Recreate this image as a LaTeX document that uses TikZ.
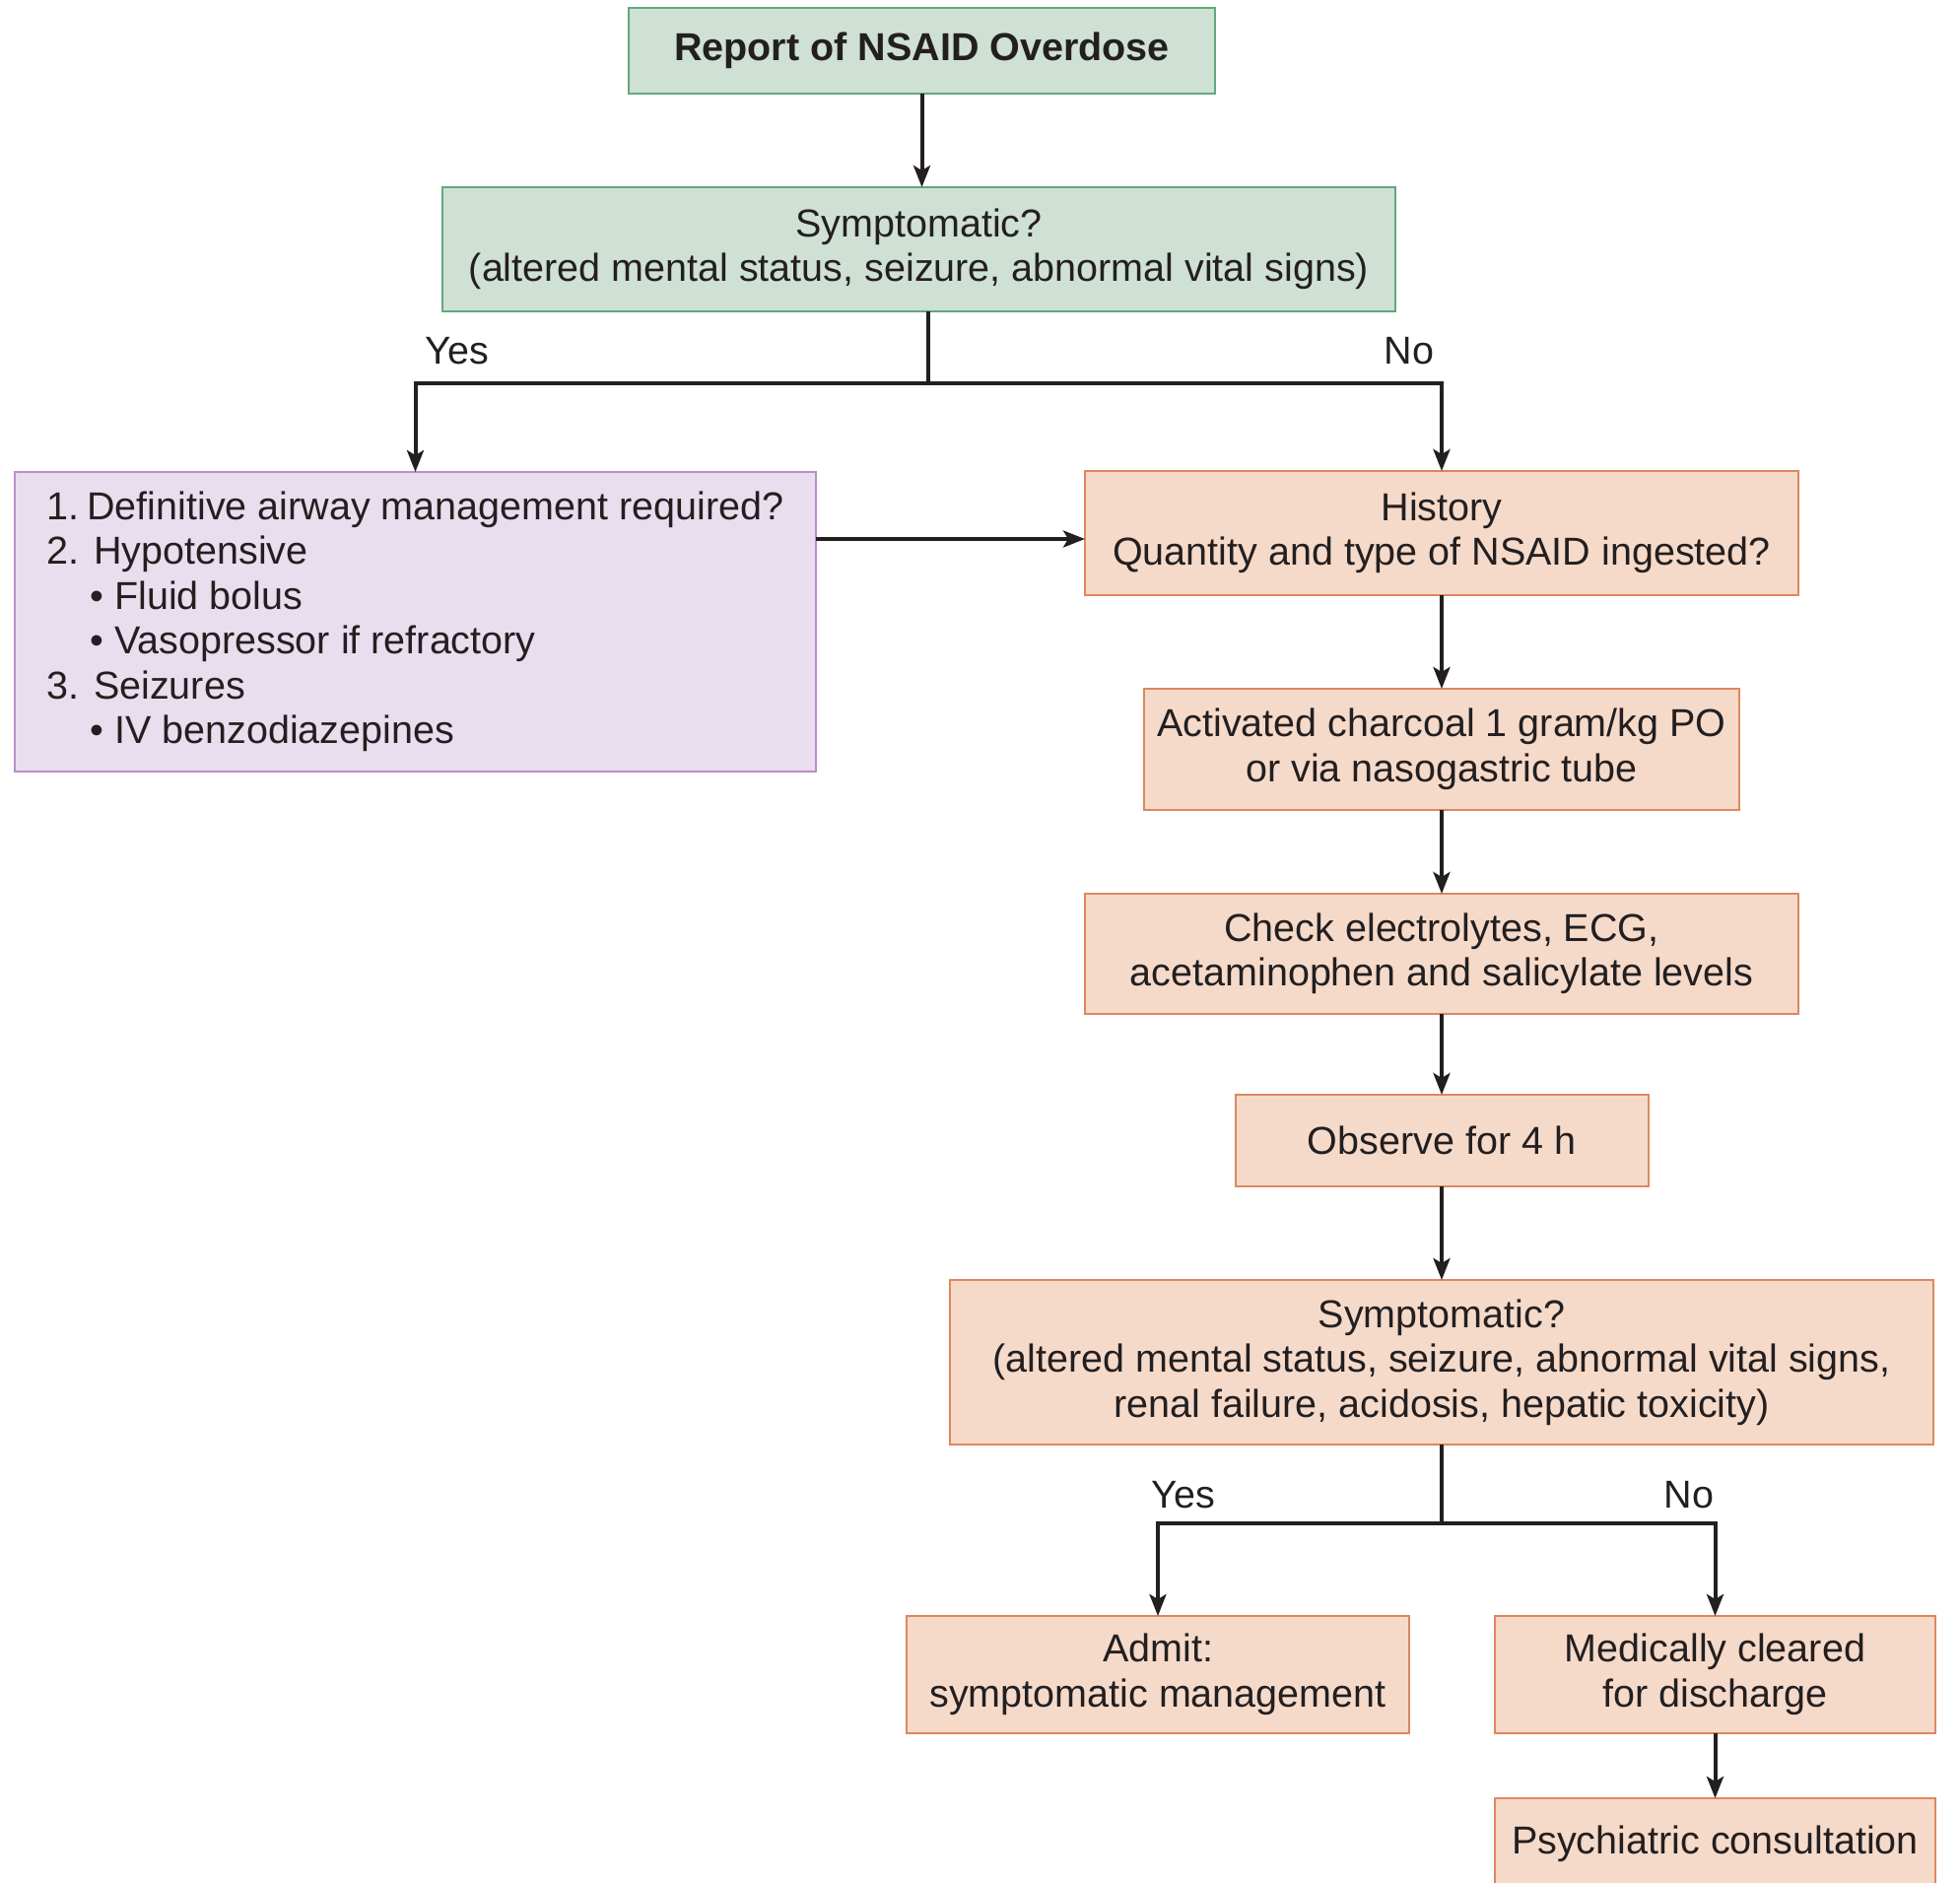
\documentclass[tikz,border=0pt]{standalone}
\usepackage{fontspec}
\setmainfont{Liberation Sans}
\usetikzlibrary{arrows.meta, positioning}
\definecolor{odGreen}{RGB}{207, 224, 213}
\definecolor{odGreenLine}{RGB}{98, 168, 124}
\definecolor{odPurple}{RGB}{232, 222, 237}
\definecolor{odPurpleLine}{RGB}{186, 142, 200}
\definecolor{odOrange}{RGB}{245, 218, 202}
\definecolor{odOrangeLine}{RGB}{222, 135, 96}
\definecolor{odInk}{RGB}{35, 31, 32}
\newcommand{\odfont}{\fontsize{39.5}{45.5}\selectfont}

\begin{document}
\begin{tikzpicture}[
  x=1pt, y=-1pt,
  box/.style={
    rectangle, inner sep=0pt, outer sep=0pt, line width=2pt,
    draw=odOrangeLine, fill=odOrange,
    align=center, font=\odfont, text=odInk
  },
  startbox/.style={box, draw=odGreenLine, fill=odGreen},
  treatbox/.style={box, draw=odPurpleLine, fill=odPurple, align=left},
  answer/.style={font=\odfont, text=odInk},
  link/.style={line width=4pt, draw=odInk},
  arr/.style={link, -{Stealth[length=22pt, width=17pt, inset=5pt]}}
]
\useasboundingbox (0,0) rectangle (1989,1911);

\node[startbox, minimum width=595pt, minimum height=87pt] (report) at (935.5,51.5)
  {\textbf{Report of NSAID Overdose}};

\node[startbox, minimum width=967pt, minimum height=126pt] (symp1) at (932.5,253)
  {Symptomatic?\\
   (altered mental status, seizure, abnormal vital signs)};

\node[treatbox, minimum width=813pt, minimum height=304pt] (treat) at (421.5,631)
  {1.\hspace{0.2em}Definitive airway management required?\\
   2. Hypotensive\\
   \hphantom{2.\ }\textbullet\ Fluid bolus\\
   \hphantom{2.\ }\textbullet\ Vasopressor if refractory\\
   3. Seizures\\
   \hphantom{2.\ }\textbullet\ IV benzodiazepines};

\node[box, minimum width=724pt, minimum height=126pt] (history) at (1463,541)
  {History\\
   Quantity and type of NSAID ingested?};

\node[box, minimum width=604pt, minimum height=123pt, below=95pt of history] (charcoal)
  {Activated charcoal 1 gram/kg PO\\
   or via nasogastric tube};

\node[box, minimum width=724pt, minimum height=122pt, below=85pt of charcoal] (labs)
  {Check electrolytes, ECG,\\
   acetaminophen and salicylate levels};

\node[box, minimum width=419pt, minimum height=93pt, below=82pt of labs] (observe)
  {Observe for 4 h};

\node[box, minimum width=998pt, minimum height=167pt, below=95pt of observe] (symp2)
  {Symptomatic?\\
   (altered mental status, seizure, abnormal vital signs,\\
   renal failure, acidosis, hepatic toxicity)};

\node[box, minimum width=510pt, minimum height=119pt] (admit) at (1175,1699.5)
  {Admit:\\
   symptomatic management};

\node[box, minimum width=447pt, minimum height=119pt] (cleared) at (1740.5,1699.5)
  {Medically cleared\\
   for discharge};

\node[box, minimum width=447pt, minimum height=92pt, below=66pt of cleared] (psych)
  {Psychiatric consultation};

% yes / no labels
\node[answer] (yes1) at (464,356) {Yes};
\node[answer] (no1) at (1430,356) {No};
\node[answer] (yes2) at (1201,1517) {Yes};
\node[answer] (no2) at (1714,1517) {No};

% connectors
\draw[arr] (report.south) -- (report.south |- symp1.north);

\coordinate (split1) at (942,389);
\draw[link] (split1 |- symp1.south) -- (split1);
\draw[arr] (split1) -| (treat.north);
\draw[arr] (split1) -| (history.north);

\draw[arr] (treat.east |- 0,547) -- (history.west |- 0,547);

\draw[arr] (history) -- (charcoal);
\draw[arr] (charcoal) -- (labs);
\draw[arr] (labs) -- (observe);
\draw[arr] (observe) -- (symp2);

\coordinate (split2) at (symp2.south |- 0,1546);
\draw[link] (symp2.south) -- (split2);
\draw[arr] (split2) -| (admit.north);
\draw[arr] (split2) -| (cleared.north);

\draw[arr] (cleared) -- (psych);

\end{tikzpicture}
\end{document}
